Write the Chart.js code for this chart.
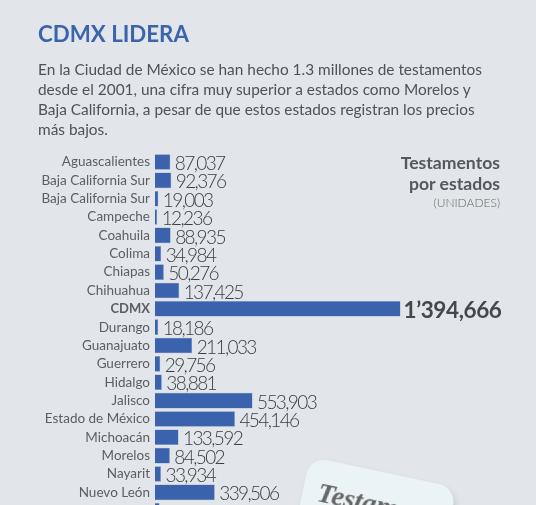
<!DOCTYPE html>
<html>
<head>
<meta charset="utf-8">
<script src="https://cdn.jsdelivr.net/npm/chart.js@4"></script>
<style>
html, body { margin: 0; width: 536px; height: 505px; overflow: hidden; background: #e2e5e9; font-family: Lato, sans-serif; }
.t { position: absolute; white-space: nowrap; }
#title { left: 38px; top: 20px; font-size: 22.3px; font-weight: 700; color: #3a65ac; line-height: 28px; }
#intro { left: 38px; top: 59px; font-size: 15.4px; color: #4f5257; line-height: 20.1px; }
#side { right: 36px; top: 153px; text-align: right; font-size: 17.6px; font-weight: 700; color: #55585c; line-height: 20.5px; }
#side small { display: block; font-size: 12px; font-weight: 300; color: #666; line-height: 18px; }
#chart { position: absolute; left: 0; top: 0; }
#card { position: absolute; left: 297px; top: 471px; width: 150px; height: 110px; background: #eaf3f6; border-radius: 18px; transform: rotate(12deg); box-shadow: 3px 3px 6px rgba(0,0,0,.12); }
#card span { position: absolute; left: 15px; top: 17px; font: italic 700 28px "Liberation Serif", serif; color: #666; }
</style>
</head>
<body>
<canvas id="chart" width="536" height="533"></canvas>
<div class="t" id="title">CDMX LIDERA</div>
<div class="t" id="intro">En la Ciudad de México se han hecho 1.3 millones de testamentos<br>desde el 2001, una cifra muy superior a estados como Morelos y<br>Baja California, a pesar de que estos estados registran los precios<br>más bajos.</div>
<div class="t" id="side">Testamentos<br>por estados<small>(UNIDADES)</small></div>
<div id="card"><span>Testamento</span></div>
<script>
var estados = ["Aguascalientes", "Baja California Sur", "Baja California Sur", "Campeche", "Coahuila", "Colima", "Chiapas", "Chihuahua", "CDMX", "Durango", "Guanajuato", "Guerrero", "Hidalgo", "Jalisco", "Estado de México", "Michoacán", "Morelos", "Nayarit", "Nuevo León", "Oaxaca"]
var testamentos = [87037, 92376, 19003, 12236, 88935, 34984, 50276, 137425, 1394666, 18186, 211033, 29756, 38881, 553903, 454146, 133592, 84502, 33934, 339506, 26000]
var etiquetas = ["87,037", "92,376", "19,003", "12,236", "88,935", "34,984", "50,276", "137,425", "1’394,666", "18,186", "211,033", "29,756", "38,881", "553,903", "454,146", "133,592", "84,502", "33,934", "339,506", "26,000"]

// valores al final de cada barra
var valueLabels = {
   id: "valueLabels",
   afterDatasetsDraw: function (chart) {
      var ctx = chart.ctx
      var meta = chart.getDatasetMeta(0)
      ctx.save()
      ctx.textBaseline = "middle"
      meta.data.forEach(function (bar, i) {
         var big = estados[i] === "CDMX"
         ctx.font = big ? "700 22.5px Lato" : "300 19px Lato"
         ctx.letterSpacing = big ? "-0.4px" : "-1.6px"
         ctx.fillStyle = big ? "#44474b" : "#3a3d41"
         ctx.fillText(etiquetas[i], bar.x + (big ? 3 : 4.5), bar.y + 2)
      })
      ctx.restore()
   },
}

var chart = new Chart(document.getElementById("chart").getContext("2d"), {
   type: "bar",
   data: {
      labels: estados,
      datasets: [
         {
            data: testamentos,
            backgroundColor: "#3a62ad",
            borderColor: "#7f9bcb",
            borderWidth: 0.5,
            categoryPercentage: 1,
            barPercentage: 0.85,
         },
      ],
   },
   options: {
      indexAxis: "y",
      responsive: false,
      animation: false,
      layout: { padding: { top: 152.8, bottom: 0.5, left: 0, right: 0 } },
      plugins: {
         legend: { display: false },
         tooltip: { enabled: false },
      },
      scales: {
         x: {
            display: false,
            min: 0,
            max: 2164400,
            grid: { display: false },
         },
         y: {
            afterFit: function (axis) { axis.width = 155 },
            border: { display: false },
            grid: { display: false, drawTicks: false },
            ticks: {
               autoSkip: false,
               padding: 5,
               color: "#5b5e63",
               font: function (c) {
                  return estados[c.index] === "CDMX"
                     ? { family: "Lato", size: 13, weight: "700" }
                     : { family: "Lato", size: 13.5 }
               },
            },
         },
      },
   },
   plugins: [valueLabels],
})
</script>
</body>
</html>
